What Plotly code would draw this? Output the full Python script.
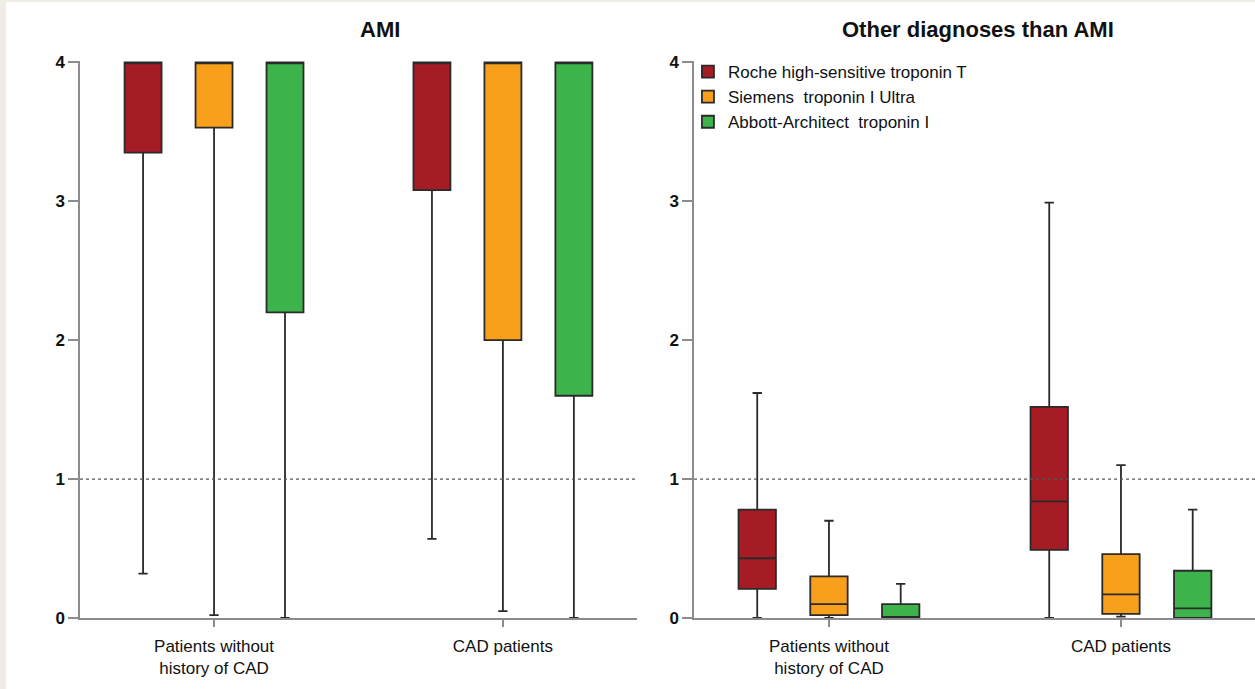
import plotly.graph_objects as go
from plotly.subplots import make_subplots

categories = ["Patients without<br>history of CAD", "CAD patients"]
assays = ["Roche high-sensitive troponin T", "Siemens  troponin I Ultra", "Abbott-Architect  troponin I"]
colors = ["#a61c24", "#f8a01c", "#3cb44b"]

# AMI panel (per assay: values for the two categories)
ami_lower = [[0.32, 0.57], [0.02, 0.05], [0.0, 0.0]]
ami_q1 = [[3.35, 3.08], [3.53, 2.0], [2.2, 1.6]]
ami_median = [[4.0, 4.0], [4.0, 4.0], [4.0, 4.0]]
ami_q3 = [[4.0, 4.0], [4.0, 4.0], [4.0, 4.0]]
ami_upper = [[4.0, 4.0], [4.0, 4.0], [4.0, 4.0]]

# Other diagnoses panel
oth_lower = [[0.0, 0.0], [0.0, 0.01], [0.0, 0.0]]
oth_q1 = [[0.21, 0.49], [0.02, 0.03], [0.0, 0.0]]
oth_median = [[0.43, 0.84], [0.10, 0.17], [0.005, 0.07]]
oth_q3 = [[0.78, 1.52], [0.30, 0.46], [0.10, 0.34]]
oth_upper = [[1.62, 2.99], [0.70, 1.10], [0.245, 0.78]]

y_ticks = [0, 1, 2, 3, 4]
reference_level = 1

FONT = "Liberation Sans, Arial, sans-serif"

fig = make_subplots(rows=1, cols=2)

for i, name in enumerate(assays):
    fig.add_trace(go.Box(
        x=categories, q1=ami_q1[i], median=ami_median[i], q3=ami_q3[i],
        lowerfence=ami_lower[i], upperfence=ami_upper[i],
        name=name, fillcolor=colors[i], line=dict(color="#2a2a2a", width=1.8),
        whiskerwidth=0.25, showlegend=False, legendgroup=name, offsetgroup=str(i),
    ), row=1, col=1)

for i, name in enumerate(assays):
    fig.add_trace(go.Box(
        x=categories, q1=oth_q1[i], median=oth_median[i], q3=oth_q3[i],
        lowerfence=oth_lower[i], upperfence=oth_upper[i],
        name=name, fillcolor=colors[i], line=dict(color="#2a2a2a", width=1.8),
        whiskerwidth=0.25, showlegend=True, legendgroup=name, offsetgroup=str(i),
    ), row=1, col=2)

axis_common = dict(showline=True, linecolor="#8c8c8c", linewidth=1.5, showgrid=False,
                   zeroline=False, ticks="outside", tickcolor="#8c8c8c", tickwidth=1.5)

fig.update_xaxes(**axis_common, ticklen=7, ticklabelstandoff=5,
                 tickfont=dict(family=FONT, size=17, color="#111"))
fig.update_yaxes(**axis_common, ticklen=10, range=[0, 4.01], tickvals=y_ticks,
                 tickfont=dict(family=FONT, size=17, color="#111", weight="bold"))
fig.update_layout(
    xaxis=dict(domain=[0, 0.474], range=[-0.464, 1.464]),
    xaxis2=dict(domain=[0.5226, 1], range=[-0.462, 1.459]),
)

fig.add_hline(y=reference_level, line=dict(color="#555555", width=1.3, dash="dot"), row=1, col=1)
fig.add_hline(y=reference_level, line=dict(color="#555555", width=1.3, dash="dot"), row=1, col=2)

# beige outer frame (left/top)
fig.add_shape(type="rect", xref="paper", yref="paper", x0=-0.063, x1=1.0, y0=-0.13, y1=1.106,
              fillcolor="white", line=dict(width=0), layer="below")

fig.add_annotation(text="<b>AMI</b>", xref="paper", yref="paper", x=0.2553, y=1.0557,
                   showarrow=False, xanchor="center", yanchor="middle",
                   font=dict(family=FONT, size=22, color="#111"))
fig.add_annotation(text="<b>Other diagnoses than AMI</b>", xref="paper", yref="paper", x=0.7643, y=1.0557,
                   showarrow=False, xanchor="center", yanchor="middle",
                   font=dict(family=FONT, size=22, color="#111"))

fig.update_layout(
    width=1255, height=689,
    margin=dict(l=80, r=0, t=61, b=71),
    paper_bgcolor="#efede4", plot_bgcolor="white",
    boxmode="group", boxgap=0.263, boxgroupgap=0.479,
    legend=dict(x=0.5174, y=1.0126, xanchor="left", yanchor="top", bgcolor="rgba(0,0,0,0)",
                font=dict(family=FONT, size=17, color="#111"), tracegroupgap=0),
    font=dict(family=FONT),
)

fig.write_html("out.html", config={"displayModeBar": False},
               post_script="document.body.style.margin='0';")
